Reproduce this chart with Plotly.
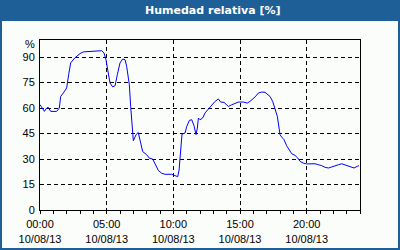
import plotly.graph_objects as go

hours = [0.0, 0.15, 0.33, 0.5, 0.62, 0.8, 1.0, 1.25, 1.45, 1.55, 1.75, 2.0, 2.15, 2.3, 2.6, 3.0, 3.25, 3.75,
         4.2, 4.63, 4.8, 4.95, 5.12, 5.25, 5.45, 5.63, 5.8, 6.0, 6.2, 6.38, 6.5, 6.7, 6.8, 6.92, 7.0, 7.2,
         7.37, 7.5, 7.7, 8.0, 8.2, 8.45, 8.63, 8.88, 9.13, 9.38, 9.88, 10.13, 10.33, 10.43, 10.55, 10.65,
         10.88, 11.0, 11.2, 11.38, 11.55, 11.7, 11.8, 11.88, 12.0, 12.2, 12.38, 12.63, 12.88, 13.13, 13.38,
         13.55, 13.8, 14.13, 14.38, 14.63, 14.88, 15.25, 15.55, 15.75, 16.13, 16.38, 16.63, 16.88, 17.13,
         17.25, 17.45, 17.63, 17.8, 17.93, 18.0, 18.13, 18.3, 18.5, 18.7, 18.88, 19.13, 19.33, 19.5, 19.75,
         20.0, 20.38, 20.63, 20.88, 21.13, 21.38, 21.63, 21.88, 22.13, 22.38, 22.63, 22.88, 23.13, 23.38,
         23.55, 23.8, 23.93]
humidity = [62, 60, 58, 60, 60.4, 58, 58, 58, 60, 66.8, 68.8, 71.8, 79.6, 86.5, 89.4, 92, 93, 93.3,
            93.5, 93.7, 92.4, 88.4, 80.6, 74.7, 72.4, 73.1, 79.6, 86.5, 88.8, 88.4, 84.5, 73.7, 61, 45, 40.7, 44.3,
            45.6, 41.2, 34.4, 32.5, 30.5, 30, 27.5, 23.2, 21.6, 21, 21, 20, 19.6, 23.5, 33.3, 44.6,
            45.3, 49, 52.7, 53.1, 49.6, 44.3, 48.2, 54.1, 53.1, 54.1, 57.1, 59.4, 61.9, 63.9, 65.3,
            63.5, 63.3, 60.9, 61.9, 62.9, 63.5, 63.5, 62.9, 63.9, 66.5, 68.8, 69.4, 69.2, 67.8,
            66.8, 63.9, 60, 55.1, 48.2, 44.3, 42.9, 41.4, 37.8, 34.9, 33.1, 32.1, 30.6, 28.6, 27.6,
            27.1, 27.1, 27.2, 26.6, 26.1, 25.1, 24.7, 25.3, 26.1, 26.6, 27.2, 26.6, 26.1, 25.3,
            24.7, 25.7, 26.1]

x_tickvals = [0, 5, 10, 15, 20]
x_ticktext = ["00:00<br>10/08/13", "05:00<br>10/08/13", "10:00<br>10/08/13",
              "15:00<br>10/08/13", "20:00<br>10/08/13"]
y_tickvals = [0, 15, 30, 45, 60, 75, 90]
title_text = "Humedad relativa [%]"
unit_text = "%"

BLUE = "#1f5f97"
BG = "#fbfdfb"
FONT = "Liberation Sans"

fig = go.Figure()
fig.add_trace(go.Scatter(x=hours, y=humidity, mode="lines",
                         line=dict(color="#0000ff", width=1), hoverinfo="skip"))

# plot area: x 40..360 px, y 40..210 px
def px_x(p):
    return (p - 40) / 320.0

def px_y(p):
    return (210 - p) / 170.0

fig.update_layout(
    width=400, height=250,
    margin=dict(l=40, r=40, t=40, b=40, autoexpand=False),
    paper_bgcolor=BLUE,
    plot_bgcolor=BG,
    showlegend=False,
    font=dict(family=FONT, size=11, color="#000000"),
    shapes=[dict(type="rect", xref="paper", yref="paper",
                 x0=px_x(2), x1=px_x(398), y0=px_y(248), y1=px_y(21),
                 fillcolor=BG, line=dict(width=0), layer="below")],
    annotations=[
        dict(text="<b>" + title_text + "</b>", xref="paper", yref="paper",
             x=px_x(213), y=px_y(10.5), xanchor="center", yanchor="middle",
             showarrow=False, font=dict(family="DejaVu Sans", size=11, color="#ffffff")),
        dict(text=unit_text, xref="paper", yref="paper",
             x=px_x(37), y=px_y(44), xanchor="right", yanchor="middle",
             showarrow=False, font=dict(family=FONT, size=11, color="#000000")),
    ],
)

fig.update_xaxes(range=[0, 24], tickvals=x_tickvals, ticktext=x_ticktext, automargin=False,
                 showline=True, linecolor="#000000", linewidth=1, mirror=True,
                 showgrid=True, gridcolor="#000000", gridwidth=1, griddash="4px,3px",
                 ticks="outside", ticklen=3, tickcolor="#000000", zeroline=False,
                 tickfont=dict(family=FONT, size=11), ticklabelstandoff=1,
                 minor=dict(dtick=1, tick0=0, ticks="outside", ticklen=3, tickcolor="#000000",
                            showgrid=False))
fig.update_yaxes(range=[0, 100], tickvals=y_tickvals, automargin=False,
                 showline=True, linecolor="#000000", linewidth=1, mirror=True,
                 showgrid=True, gridcolor="#000000", gridwidth=1, griddash="4px,3px",
                 ticks="", zeroline=False, ticklabelstandoff=2,
                 tickfont=dict(family=FONT, size=11))

fig.write_html("out.html")
